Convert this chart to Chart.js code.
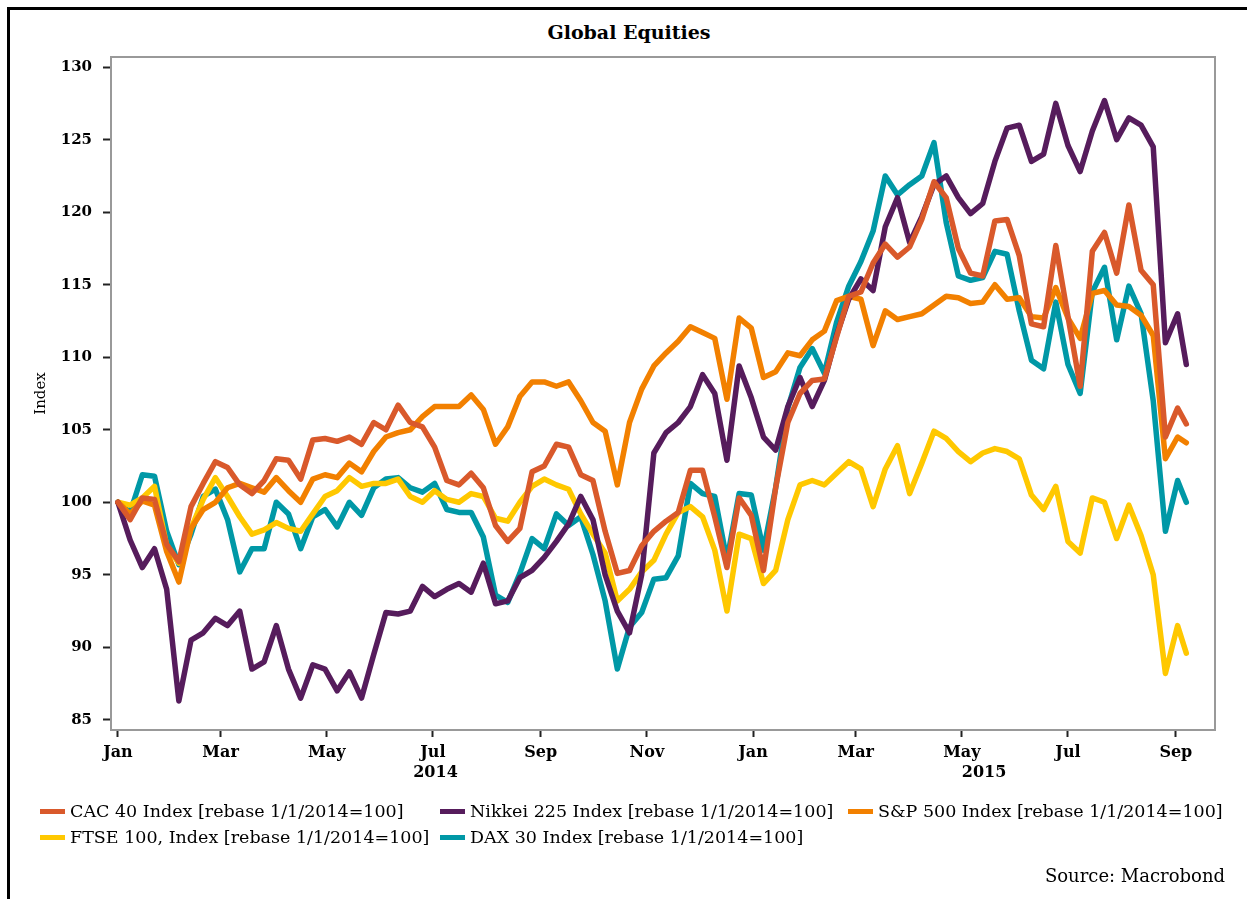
<!DOCTYPE html>
<html>
<head>
<meta charset="utf-8">
<title>Global Equities</title>
<script src="https://cdn.jsdelivr.net/npm/chart.js@4.4.1/dist/chart.umd.min.js"></script>
<style>
    html, body { margin: 0; padding: 0; background: #fff; }
    body {
        width: 1247px;
        height: 899px;
        position: relative;
        overflow: hidden;
        font-family: 'DejaVu Serif', serif;
        color: #000;
    }
    #chart { position: absolute; left: 0; top: 0; }
    .frame-top { position: absolute; left: 7px; top: 7px; right: 0; height: 3px; background: #000; }
    .frame-left { position: absolute; left: 7px; top: 7px; bottom: 0; width: 3px; background: #000; }
    #title {
        position: absolute; top: 20px; left: 0; width: 1258px;
        text-align: center; font-weight: bold; font-size: 19px; line-height: 24px;
    }
    #legend {
        position: absolute; left: 40px; top: 798px;
        display: grid; grid-template-columns: 400px 408px auto;
        font-size: 17.5px; line-height: 26px; white-space: nowrap;
    }
    .legend-item { display: flex; align-items: center; }
    .legend-swatch { width: 25px; height: 5px; margin-right: 5px; }
    #source {
        position: absolute; right: 22px; top: 864px;
        font-size: 18px; line-height: 24px;
    }
</style>
</head>
<body>
<div class="frame-top"></div>
<div class="frame-left"></div>
<div id="title">Global Equities</div>
<canvas id="chart" width="1247" height="899"></canvas>
<div id="legend"></div>
<div id="source">Source: Macrobond</div>

<script>
// Weekly readings, rebased 1/1/2014 = 100
const dates = [
    '2014-01-01', '2014-01-08', '2014-01-15', '2014-01-22', '2014-01-29',
    '2014-02-05', '2014-02-12', '2014-02-19', '2014-02-26',
    '2014-03-05', '2014-03-12', '2014-03-19', '2014-03-26',
    '2014-04-02', '2014-04-09', '2014-04-16', '2014-04-23', '2014-04-30',
    '2014-05-07', '2014-05-14', '2014-05-21', '2014-05-28',
    '2014-06-04', '2014-06-11', '2014-06-18', '2014-06-25',
    '2014-07-02', '2014-07-09', '2014-07-16', '2014-07-23', '2014-07-30',
    '2014-08-06', '2014-08-13', '2014-08-20', '2014-08-27',
    '2014-09-03', '2014-09-10', '2014-09-17', '2014-09-24',
    '2014-10-01', '2014-10-08', '2014-10-15', '2014-10-22', '2014-10-29',
    '2014-11-05', '2014-11-12', '2014-11-19', '2014-11-26',
    '2014-12-03', '2014-12-10', '2014-12-17', '2014-12-24', '2014-12-31',
    '2015-01-07', '2015-01-14', '2015-01-21', '2015-01-28',
    '2015-02-04', '2015-02-11', '2015-02-18', '2015-02-25',
    '2015-03-04', '2015-03-11', '2015-03-18', '2015-03-25',
    '2015-04-01', '2015-04-08', '2015-04-15', '2015-04-22', '2015-04-29',
    '2015-05-06', '2015-05-13', '2015-05-20', '2015-05-27',
    '2015-06-03', '2015-06-10', '2015-06-17', '2015-06-24',
    '2015-07-01', '2015-07-08', '2015-07-15', '2015-07-22', '2015-07-29',
    '2015-08-05', '2015-08-12', '2015-08-19', '2015-08-26',
    '2015-09-02', '2015-09-07'
];

const cac40 = [
    100, 98.8, 100.3, 100.2, 97.1, 95.9, 99.7, 101.3, 102.8, 102.4,
    101.2, 100.6, 101.5, 103, 102.9, 101.6, 104.3, 104.4, 104.2, 104.5,
    104, 105.5, 105, 106.7, 105.5, 105.2, 103.8, 101.5, 101.2, 102,
    101, 98.4, 97.3, 98.2, 102.1, 102.5, 104, 103.8, 101.9, 101.5,
    98, 95.1, 95.3, 97, 98, 98.7, 99.3, 102.2, 102.2, 99,
    95.5, 100.3, 99.1, 95.3, 101, 105.5, 107.5, 108.4, 108.5, 111.4,
    114.2, 114.5, 116.5, 117.8, 116.9, 117.6, 119.5, 122.1, 121, 117.5,
    115.8, 115.6, 119.4, 119.5, 117, 112.3, 112.1, 117.7, 112.8, 108,
    117.3, 118.6, 115.8, 120.5, 116, 115, 104.5, 106.5, 105.4
];

const nikkei225 = [
    100, 97.4, 95.5, 96.8, 94, 86.3, 90.5, 91, 92, 91.5,
    92.5, 88.5, 89, 91.5, 88.5, 86.5, 88.8, 88.5, 87, 88.3,
    86.5, 89.5, 92.4, 92.3, 92.5, 94.2, 93.5, 94, 94.4, 93.8,
    95.8, 93, 93.2, 94.8, 95.3, 96.2, 97.3, 98.5, 100.4, 98.8,
    95, 92.5, 91, 95, 103.4, 104.8, 105.5, 106.6, 108.8, 107.5,
    102.9, 109.4, 107.2, 104.5, 103.6, 106.6, 108.6, 106.6, 108.4, 111.5,
    114, 115.4, 114.6, 119, 121, 117.9, 119.7, 121.9, 122.5, 121,
    119.9, 120.6, 123.5, 125.8, 126, 123.5, 124, 127.5, 124.6, 122.8,
    125.6, 127.7, 125, 126.5, 126, 124.5, 111, 113, 109.5
];

const sp500 = [
    100, 99.2, 100.1, 99.8, 96.6, 94.5, 98.2, 99.5, 100, 101,
    101.3, 101, 100.7, 101.7, 100.8, 100, 101.6, 101.9, 101.7, 102.7,
    102.1, 103.5, 104.5, 104.8, 105, 105.9, 106.6, 106.6, 106.6, 107.4,
    106.4, 104, 105.2, 107.3, 108.3, 108.3, 108, 108.3, 107, 105.5,
    104.9, 101.2, 105.5, 107.8, 109.4, 110.3, 111.1, 112.1, 111.7, 111.3,
    107.1, 112.7, 112, 108.6, 109, 110.3, 110.1, 111.2, 111.8, 113.9,
    114.2, 114, 110.8, 113.2, 112.6, 112.8, 113, 113.6, 114.2, 114.1,
    113.7, 113.8, 115, 114, 114.1, 112.8, 112.7, 114.8, 112.7, 111.3,
    114.4, 114.6, 113.6, 113.5, 112.9, 111.5, 103, 104.5, 104.1
];

const ftse100 = [
    100, 99.8, 100.3, 101.1, 97, 95.8, 98.2, 100.2, 101.7, 100.4,
    99, 97.8, 98.1, 98.6, 98.2, 98, 99.2, 100.4, 100.8, 101.7,
    101.1, 101.3, 101.3, 101.6, 100.4, 100, 100.8, 100.2, 100, 100.6,
    100.4, 98.9, 98.7, 100, 101.1, 101.6, 101.2, 100.9, 99.2, 97.8,
    96.5, 93.2, 94, 95.2, 96, 97.8, 99.3, 99.7, 99, 96.7,
    92.5, 97.8, 97.5, 94.4, 95.3, 98.8, 101.2, 101.5, 101.2, 102,
    102.8, 102.3, 99.7, 102.3, 103.9, 100.6, 102.7, 104.9, 104.4, 103.5,
    102.8, 103.4, 103.7, 103.5, 103, 100.5, 99.5, 101.1, 97.3, 96.5,
    100.3, 100, 97.5, 99.8, 97.7, 95, 88.2, 91.5, 89.6
];

const dax30 = [
    100, 99.3, 101.9, 101.8, 98, 95.7, 97.8, 100.4, 100.9, 98.8,
    95.2, 96.8, 96.8, 100, 99.2, 96.8, 99, 99.5, 98.3, 100,
    99.1, 101, 101.6, 101.7, 101, 100.7, 101.3, 99.5, 99.3, 99.3,
    97.6, 93.6, 93.1, 95.1, 97.5, 96.8, 99.2, 98.4, 99, 96.4,
    93.2, 88.5, 91.4, 92.4, 94.7, 94.8, 96.3, 101.3, 100.6, 100.4,
    96, 100.6, 100.5, 96.7, 101, 106.5, 109.3, 110.6, 108.9, 112.4,
    114.9, 116.6, 118.7, 122.5, 121.2, 121.9, 122.5, 124.8, 119.3, 115.6,
    115.3, 115.5, 117.3, 117.1, 113.2, 109.8, 109.2, 113.8, 109.5, 107.5,
    114.5, 116.2, 111.2, 114.9, 113, 107, 98, 101.5, 100
];

const seriesNames = [
    'CAC 40 Index [rebase 1/1/2014=100]',
    'Nikkei 225 Index [rebase 1/1/2014=100]',
    'S&P 500 Index [rebase 1/1/2014=100]',
    'FTSE 100, Index [rebase 1/1/2014=100]',
    'DAX 30 Index [rebase 1/1/2014=100]'
];
const seriesValues = [cac40, nikkei225, sp500, ftse100, dax30];
const seriesColors = ['#d9592b', '#561c5c', '#f28000', '#ffc800', '#0098a6'];

const yTicks = [85, 90, 95, 100, 105, 110, 115, 120, 125, 130];
const xTickDates = [
    '2014-01-01', '2014-03-01', '2014-05-01', '2014-07-01', '2014-09-01', '2014-11-01',
    '2015-01-01', '2015-03-01', '2015-05-01', '2015-07-01', '2015-09-01'
];
const xTickLabels = ['Jan', 'Mar', 'May', 'Jul', 'Sep', 'Nov', 'Jan', 'Mar', 'May', 'Jul', 'Sep'];
const years = ['2014', '2015'];

const FONT = '"DejaVu Serif", serif';

// days since 1 Jan 2014
const dayOf = s => (Date.parse(s) - Date.parse('2014-01-01')) / 86400000;

// Year captions centred under the visible part of each year
const yearLabels = {
    id: 'yearLabels',
    afterDraw(chart) {
        const xs = chart.scales.x;
        const ctx = chart.ctx;
        ctx.save();
        ctx.font = 'bold 16px ' + FONT;
        ctx.fillStyle = '#000';
        ctx.textAlign = 'center';
        ctx.textBaseline = 'middle';
        years.forEach(y => {
            const start = Math.max(dayOf(y + '-01-01'), xs.min);
            const end = Math.min(dayOf((+y + 1) + '-01-01'), xs.max);
            ctx.fillText(y, xs.getPixelForValue((start + end) / 2), xs.top + 43);
        });
        ctx.restore();
    }
};

// Grey box round the plot area
const plotBorder = {
    id: 'plotBorder',
    beforeDatasetsDraw(chart) {
        const a = chart.chartArea;
        const ctx = chart.ctx;
        ctx.save();
        ctx.strokeStyle = '#999';
        ctx.lineWidth = 2;
        ctx.strokeRect(a.left, a.top, a.right - a.left, a.bottom - a.top);
        ctx.restore();
    }
};

const chart = new Chart(document.getElementById('chart'), {
    type: 'line',
    data: {
        datasets: seriesValues.map((values, i) => ({
            label: seriesNames[i],
            data: values.map((v, j) => ({ x: dayOf(dates[j]), y: v })),
            borderColor: seriesColors[i],
            backgroundColor: seriesColors[i],
            borderWidth: 5.5,
            pointRadius: 0,
            tension: 0,
            borderJoinStyle: 'round',
            borderCapStyle: 'round',
            fill: false
        }))
    },
    options: {
        responsive: false,
        animation: false,
        layout: { padding: { left: 30, top: 57, right: 32, bottom: 0 } },
        plugins: {
            legend: { display: false },
            tooltip: { enabled: false }
        },
        scales: {
            x: {
                type: 'linear',
                min: -4,
                max: 630.5,
                afterFit: s => { s.height = 169; },
                afterBuildTicks: s => { s.ticks = xTickDates.map(d => ({ value: dayOf(d) })); },
                border: { display: false },
                grid: { drawOnChartArea: false, tickLength: 7, tickWidth: 2, tickColor: '#222' },
                ticks: {
                    autoSkip: false,
                    maxRotation: 0,
                    padding: 6,
                    color: '#000',
                    font: { family: FONT, size: 16, weight: 'bold' },
                    callback: (v, i) => xTickLabels[i]
                }
            },
            y: {
                min: 84.3,
                max: 130.7,
                afterFit: s => { s.width = 81; },
                afterBuildTicks: s => { s.ticks = yTicks.map(v => ({ value: v })); },
                border: { display: false },
                grid: { drawOnChartArea: false, tickLength: 8, tickWidth: 2, tickColor: '#222' },
                ticks: {
                    padding: 11,
                    color: '#000',
                    font: { family: FONT, size: 15, weight: 'bold' }
                },
                title: {
                    display: true,
                    text: 'Index',
                    color: '#000',
                    padding: { top: 2, bottom: 0 },
                    font: { family: FONT, size: 15 }
                }
            }
        }
    },
    plugins: [yearLabels, plotBorder]
});

// HTML legend laid out in the same columns as the original
const legend = document.getElementById('legend');
chart.data.datasets.forEach(ds => {
    const item = document.createElement('div');
    item.className = 'legend-item';
    const swatch = document.createElement('span');
    swatch.className = 'legend-swatch';
    swatch.style.background = ds.borderColor;
    const text = document.createElement('span');
    text.textContent = ds.label;
    item.appendChild(swatch);
    item.appendChild(text);
    legend.appendChild(item);
});
</script>
</body>
</html>
